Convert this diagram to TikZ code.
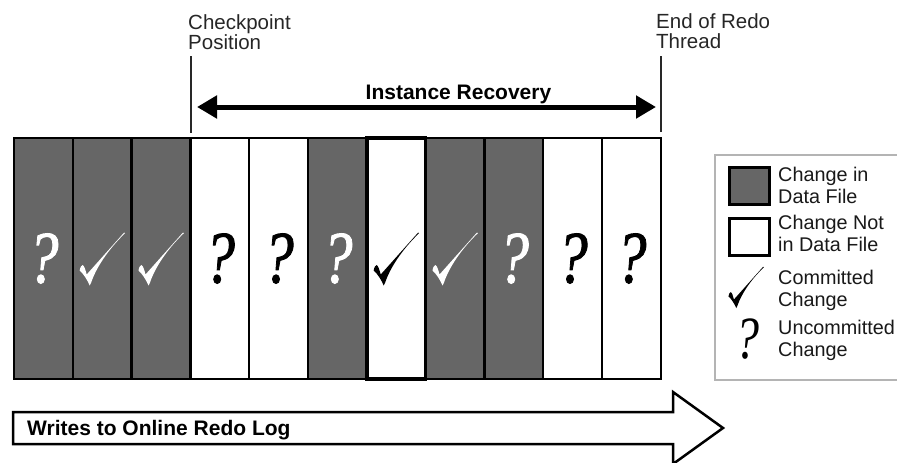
\documentclass[tikz,border=0pt]{standalone}
\usepackage{fontspec}
\usetikzlibrary{arrows.meta}
\newfontfamily\sansf{Liberation Sans}
\newfontfamily\qfont{Liberation Serif}[ItalicFeatures={FakeBold=1.3}]
\newfontfamily\qfontl{Liberation Serif}
\definecolor{cellgray}{RGB}{102,102,102}
\definecolor{boxgray}{RGB}{180,180,180}
\definecolor{thinline}{RGB}{40,40,40}
\newcommand\qmk[1][74]{\scalebox{0.82}[1]{\qfont\fontsize{#1}{#1}\selectfont\itshape ?}}
\newcommand\qml[1][60]{\scalebox{0.8}[1]{\qfontl\fontsize{#1}{#1}\selectfont\itshape ?}}
\begin{document}
\begin{tikzpicture}[x=1pt,y=-1pt,
  cellbox/.style={draw=black, line width=2.5pt, minimum width=58.8pt, minimum height=241pt, inner sep=0pt, outer sep=0pt},
  dark/.style={cellbox, fill=cellgray, text=white},
  light/.style={cellbox, fill=white, text=black},
  toplbl/.style={font=\sansf\fontsize{20.5}{20}\selectfont, align=left, inner sep=0pt, anchor=north west, text=black!85},
  leglbl/.style={font=\sansf\fontsize{19.8}{22}\selectfont, align=left, inner sep=0pt, anchor=north west, text=black!90},
  boldlbl/.style={font=\sansf\bfseries\fontsize{21}{22}\selectfont, inner sep=0pt},
  swatch/.style={draw=black, line width=3pt, minimum width=40pt, minimum height=37pt, inner sep=0pt},
  chk/.pic={\fill (-22.5,12) .. controls (-22,8.5) and (-20.5,6.5) .. (-19.5,6.5)
     .. controls (-18,7) and (-16.5,12) .. (-15.5,16) -- (22,-26) -- (22.8,-25.3)
     .. controls (6,-9) and (-6,9) .. (-11,24) -- (-12.5,27) .. controls (-15,21) and (-19,15) .. cycle;}
]
\useasboundingbox (0,0) rectangle (897,463);

% cells
\node[dark]  (c1)  at ({14+58.8*0.5},258.5) {\qmk};
\node[dark]  (c2)  at ({14+58.8*1.5},258.5) {};
\node[dark]  (c3)  at ({14+58.8*2.5},258.5) {};
\node[light] (c4)  at ({14+58.8*3.5},258.5) {\qmk};
\node[light] (c5)  at ({14+58.8*4.5},258.5) {\qmk};
\node[dark]  (c6)  at ({14+58.8*5.5},258.5) {\qmk};
\node[dark]  (c8)  at ({14+58.8*7.5},258.5) {};
\node[dark]  (c9)  at ({14+58.8*8.5},258.5) {\qmk};
\node[light] (c10) at ({14+58.8*9.5},258.5) {\qmk};
\node[light] (c11) at ({14+58.8*10.5},258.5) {\qmk};
\node[light, line width=3.5pt] (c7) at ({14+58.8*6.5},258.5) {};
\pic[fill=white] at (c2.center) {chk};
\pic[fill=white] at (c3.center) {chk};
\pic[fill=black] at (c7.center) {chk};
\pic[fill=white] at (c8.center) {chk};

% top labels and markers
\node[toplbl] (cpl) at (188,14.5) {Checkpoint\\Position};
\node[toplbl] (eol) at (656,13.5) {End of Redo\\Thread};
\coordinate (cpT) at (191,56);
\coordinate (cpB) at (191,133);
\coordinate (eoT) at (661,56);
\coordinate (eoB) at (661,132);
\draw[thinline, line width=1.2pt] (cpT) -- (cpB);
\draw[thinline, line width=1.2pt] (eoT) -- (eoB);

% instance recovery arrow
\coordinate (irL) at (197,107);
\coordinate (irR) at (656,107);
\draw[line width=5pt, {Triangle[length=20pt,width=22pt]}-{Triangle[length=20pt,width=22pt]}] (irL) -- (irR);
\node[boldlbl, anchor=base] (irl) at (458.5,99) {Instance Recovery};

% legend
\node[draw=boxgray, line width=2pt, fill=white, minimum width=184pt, minimum height=225pt, anchor=north west, inner sep=0pt] (legend) at (714,154) {};
\node[swatch, fill=cellgray] (sw1) at (749,186) {};
\node[swatch, fill=white] (sw2) at (749,236.5) {};
\node[leglbl] (t1) at (778,167) {Change in\\Data File};
\node[leglbl] (t2) at (778,215) {Change Not\\in Data File};
\node[leglbl] (t3) at (778,270) {Committed\\Change};
\node[leglbl] (t4) at (778,320) {Uncommitted\\Change};
\pic[fill=black, scale=0.78] at (746,287) {chk};
\node[inner sep=0pt] (lq) at (747.5,339) {\qml};

% bottom arrow
\draw[line width=2.5pt, fill=white, line join=miter] (13,412) -- (673,412) -- (673,392) -- (723,428) -- (673,464) -- (673,444) -- (13,444) -- cycle;
\node[boldlbl, anchor=base west] (wl) at (27,435) {Writes to Online Redo Log};
\end{tikzpicture}
\end{document}
